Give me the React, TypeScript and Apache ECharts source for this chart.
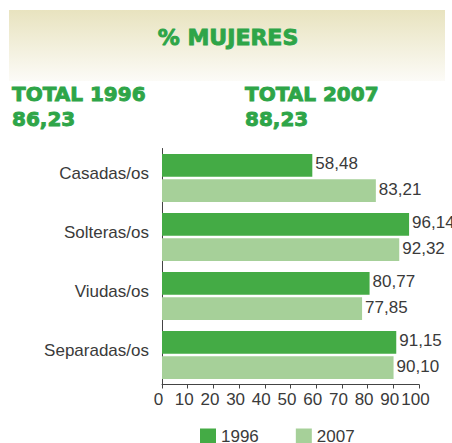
import React, { useEffect, useRef } from "react";
import * as echarts from "echarts";

const categories = ["Casadas/os", "Solteras/os", "Viudas/os", "Separadas/os"];
const values1996 = [58.48, 96.14, 80.77, 91.15];
const values2007 = [83.21, 92.32, 77.85, 90.1];
const seriesNames = ["1996", "2007"];
const xTicks = [0, 100, 10];
const titleText = "% MUJERES";
const totals = [
  { label: "TOTAL 1996", value: "86,23" },
  { label: "TOTAL 2007", value: "88,23" },
];

const GREEN = "#2ea548";
const DARK = "#44ab45";
const LIGHT = "#a6d099";
const TEXT = "#3a3a3a";
const HEAD_FONT = "'DejaVu Sans', sans-serif";
const BODY_FONT = "'Liberation Sans', Arial, sans-serif";

const fmt = (v: number) => v.toFixed(2).replace(".", ",");

export default function App() {
  const ref = useRef<HTMLDivElement>(null);
  useEffect(() => {
    if (!ref.current) return;
    const chart = echarts.init(ref.current, null, { renderer: "svg" });
    const headStyle = (text: string, size: number, align: string) => ({
      text,
      fill: GREEN,
      stroke: GREEN,
      lineWidth: 0.9,
      font: `bold ${size}px ${HEAD_FONT}`,
      verticalAlign: "middle",
      align,
    });
    const totalGraphics: any[] = [];
    totals.forEach((t, i) => {
      const x = i === 0 ? 12 : 245;
      totalGraphics.push({ type: "text", x, y: 94, style: headStyle(t.label, 20, "left") });
      totalGraphics.push({ type: "text", x, y: 119, style: headStyle(t.value, 20, "left") });
    });
    chart.setOption({
      animation: false,
      backgroundColor: "#ffffff",
      graphic: [
        {
          type: "rect",
          shape: { x: 9, y: 10, width: 436, height: 71 },
          style: {
            fill: new echarts.graphic.LinearGradient(0, 0, 0, 1, [
              { offset: 0, color: "#e8e3bf" },
              { offset: 1, color: "#fcfbf7" },
            ]),
          },
          z: -10,
        },
        { type: "text", x: 228, y: 37, style: headStyle(titleText, 22, "center") },
        ...totalGraphics,
      ],
      legend: {
        data: seriesNames,
        left: 195,
        top: 423,
        itemWidth: 16,
        itemHeight: 16,
        itemGap: 37,
        icon: "rect",
        textStyle: { fontSize: 17, color: TEXT, fontFamily: BODY_FONT },
      },
      grid: { left: 162, right: 33, top: 148.5, bottom: 443 - 384.5, containLabel: false },
      xAxis: {
        type: "value",
        min: xTicks[0],
        max: xTicks[1],
        interval: xTicks[2],
        splitLine: { show: false },
        axisLine: { show: true, lineStyle: { color: "#444", width: 1 } },
        axisTick: { show: true, length: 4, lineStyle: { color: "#444" } },
        axisLabel: {
          fontSize: 17,
          color: TEXT,
          fontFamily: BODY_FONT,
          margin: 6,
          padding: [0, 7, 0, 0],
        },
      },
      yAxis: {
        type: "category",
        data: categories,
        inverse: true,
        axisLine: { show: true, lineStyle: { color: "#444", width: 1 } },
        axisTick: { show: false },
        axisLabel: {
          fontSize: 17,
          color: TEXT,
          fontFamily: BODY_FONT,
          margin: 13,
          verticalAlign: "bottom",
          lineHeight: 9,
        },
      },
      series: [
        {
          name: seriesNames[0],
          type: "bar",
          data: values1996,
          itemStyle: { color: DARK },
          barGap: "10%",
          barCategoryGap: "19%",
          label: {
            show: true,
            position: "right",
            distance: 3,
            offset: [0, -2],
            fontSize: 17,
            color: TEXT,
            fontFamily: BODY_FONT,
            formatter: (p: any) => fmt(p.value),
          },
        },
        {
          name: seriesNames[1],
          type: "bar",
          data: values2007,
          itemStyle: { color: LIGHT },
          barGap: "10%",
          barCategoryGap: "19%",
          label: {
            show: true,
            position: "right",
            distance: 3,
            offset: [0, -1],
            fontSize: 17,
            color: TEXT,
            fontFamily: BODY_FONT,
            formatter: (p: any) => fmt(p.value),
          },
        },
      ],
    });
    return () => chart.dispose();
  }, []);
  return (
    <div
      ref={ref}
      style={{ position: "fixed", left: 0, top: 0, width: 452, height: 443 }}
    />
  );
}
